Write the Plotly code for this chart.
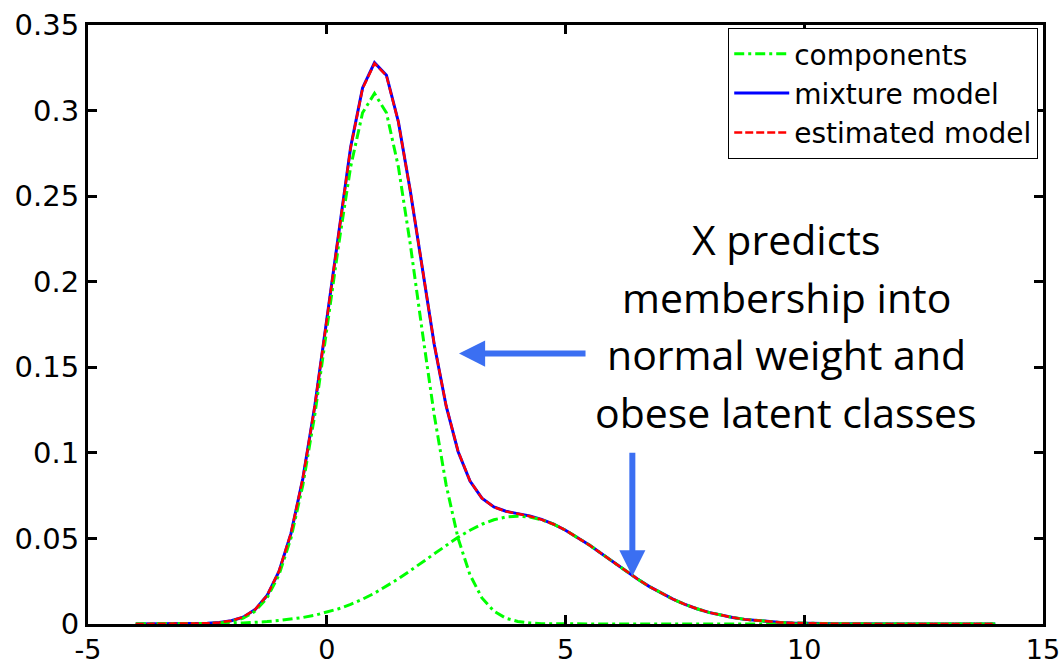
import plotly.graph_objects as go

x_vals = [-4.0, -3.75, -3.5, -3.25, -3.0, -2.75, -2.5, -2.25, -2.0, -1.75, -1.5, -1.25,
          -1.0, -0.75, -0.5, -0.25, 0.0, 0.25, 0.5, 0.75, 1.0, 1.25, 1.5, 1.75,
          2.0, 2.25, 2.5, 2.75, 3.0, 3.25, 3.5, 3.75, 4.0, 4.25, 4.5, 4.75,
          5.0, 5.25, 5.5, 5.75, 6.0, 6.25, 6.5, 6.75, 7.0, 7.25, 7.5, 7.75,
          8.0, 8.25, 8.5, 8.75, 9.0, 9.25, 9.5, 9.75, 10.0, 10.25, 10.5, 10.75,
          11.0, 11.25, 11.5, 11.75, 12.0, 12.25, 12.5, 12.75, 13.0, 13.25, 13.5, 13.75, 14.0]

component_normal = [0, 0, 0, 0, 0, 0.0001, 0.0002, 0.0006, 0.0015, 0.0034, 0.0075, 0.0152,
                    0.0287, 0.0501, 0.0813, 0.1223, 0.1710, 0.2218, 0.2671, 0.2987, 0.3100, 0.2987, 0.2671, 0.2218,
                    0.1710, 0.1223, 0.0813, 0.0501, 0.0287, 0.0152, 0.0075, 0.0034, 0.0015, 0.0006, 0.0002, 0.0001,
                    0, 0, 0, 0, 0, 0, 0, 0, 0, 0, 0, 0,
                    0, 0, 0, 0, 0, 0, 0, 0, 0, 0, 0, 0,
                    0, 0, 0, 0, 0, 0, 0, 0, 0, 0, 0, 0, 0]

component_obese = [0, 0, 0, 0, 0.0001, 0.0001, 0.0002, 0.0003, 0.0004, 0.0006, 0.0009, 0.0014,
                   0.0020, 0.0027, 0.0038, 0.0051, 0.0068, 0.0089, 0.0115, 0.0145, 0.0180, 0.0220, 0.0264, 0.0312,
                   0.0361, 0.0412, 0.0461, 0.0507, 0.0548, 0.0583, 0.0609, 0.0625, 0.0630, 0.0625, 0.0609, 0.0583,
                   0.0548, 0.0507, 0.0461, 0.0412, 0.0361, 0.0312, 0.0264, 0.0220, 0.0180, 0.0145, 0.0115, 0.0089,
                   0.0068, 0.0051, 0.0038, 0.0027, 0.0020, 0.0014, 0.0009, 0.0006, 0.0004, 0.0003, 0.0002, 0.0001,
                   0.0001, 0, 0, 0, 0, 0, 0, 0, 0, 0, 0, 0, 0]

mixture_model = [0, 0, 0, 0, 0.0001, 0.0002, 0.0004, 0.0009, 0.0019, 0.0040, 0.0084, 0.0166,
                 0.0307, 0.0528, 0.0851, 0.1274, 0.1778, 0.2307, 0.2786, 0.3132, 0.3280, 0.3207, 0.2935, 0.2530,
                 0.2071, 0.1635, 0.1274, 0.1008, 0.0835, 0.0735, 0.0684, 0.0659, 0.0645, 0.0631, 0.0611, 0.0584,
                 0.0548, 0.0507, 0.0461, 0.0412, 0.0361, 0.0312, 0.0264, 0.0220, 0.0180, 0.0145, 0.0115, 0.0089,
                 0.0068, 0.0051, 0.0038, 0.0027, 0.0020, 0.0014, 0.0009, 0.0006, 0.0004, 0.0003, 0.0002, 0.0001,
                 0.0001, 0, 0, 0, 0, 0, 0, 0, 0, 0, 0, 0, 0]

estimated_model = [0, 0, 0, 0, 0.0001, 0.0002, 0.0004, 0.0009, 0.0019, 0.0041, 0.0085, 0.0167,
                   0.0309, 0.0530, 0.0852, 0.1275, 0.1777, 0.2305, 0.2783, 0.3129, 0.3276, 0.3204, 0.2933, 0.2530,
                   0.2072, 0.1637, 0.1276, 0.1010, 0.0836, 0.0735, 0.0683, 0.0658, 0.0644, 0.0630, 0.0610, 0.0583,
                   0.0548, 0.0507, 0.0461, 0.0412, 0.0361, 0.0312, 0.0264, 0.0220, 0.0180, 0.0145, 0.0115, 0.0089,
                   0.0068, 0.0051, 0.0038, 0.0027, 0.0020, 0.0014, 0.0009, 0.0006, 0.0004, 0.0003, 0.0002, 0.0001,
                   0.0001, 0, 0, 0, 0, 0, 0, 0, 0, 0, 0, 0, 0]

x_ticks = [-5, 0, 5, 10, 15]
x_tick_text = ["-5", "0", "5", "10", "15"]
y_ticks = [0, 0.05, 0.1, 0.15, 0.2, 0.25, 0.3, 0.35]
y_tick_text = ["0", "0.05", "0.1", "0.15", "0.2", "0.25", "0.3", "0.35"]

annotation_lines = ["X predicts", "membership into", "normal weight and", "obese latent classes"]

GREEN = "#00ff00"
BLUE = "#0000ff"
RED = "#ff0000"
ARROW = "#3b6ff2"

fig = go.Figure()
fig.add_trace(go.Scatter(x=x_vals, y=mixture_model, mode="lines", name="mixture model",
                         line=dict(color=BLUE, width=3), legendrank=2))
fig.add_trace(go.Scatter(x=x_vals, y=component_normal, mode="lines", name="components",
                         line=dict(color=GREEN, width=3, dash="10px,4px,3px,4px"), legendrank=1))
fig.add_trace(go.Scatter(x=x_vals, y=component_obese, mode="lines", name="components",
                         line=dict(color=GREEN, width=3, dash="10px,4px,3px,4px"), showlegend=False))
fig.add_trace(go.Scatter(x=x_vals, y=estimated_model, mode="lines", name="estimated model",
                         line=dict(color=RED, width=2.5, dash="8px,3px"), legendrank=3))

y_tick_font = dict(family="DejaVu Sans", size=29, color="black")
x_tick_font = dict(family="DejaVu Sans", size=27, color="black")

fig.update_layout(
    width=1063, height=667,
    margin=dict(l=88, r=20, t=25, b=43),
    paper_bgcolor="white", plot_bgcolor="white",
    showlegend=True,
    legend=dict(x=0.995, y=0.995, xanchor="right", yanchor="top",
                bgcolor="white", bordercolor="black", borderwidth=1,
                font=dict(family="DejaVu Sans", size=28, color="black"),
                tracegroupgap=0, itemwidth=55),
    xaxis=dict(range=[-5, 15], tickvals=x_ticks, ticktext=x_tick_text, automargin=False,
               showgrid=False, zeroline=False, showline=True, linecolor="black",
               linewidth=3, mirror="ticks", ticks="inside", ticklen=9, tickwidth=2.5,
               tickcolor="black", tickfont=x_tick_font),
    yaxis=dict(range=[0, 0.35], tickvals=y_ticks, ticktext=y_tick_text, automargin=False,
               showgrid=False, zeroline=False, showline=True, linecolor="black",
               linewidth=3, mirror="ticks", ticks="inside", ticklen=9, tickwidth=2.5,
               tickcolor="black", tickfont=y_tick_font),
)

plot_top, plot_bottom = 25, 624
line_y = [235, 293, 350, 408]
for txt, yc in zip(annotation_lines, line_y):
    fig.add_annotation(text=txt, xref="paper", yref="paper",
                       x=(786 - 88) / 955, y=(plot_bottom - yc) / (plot_bottom - plot_top),
                       xanchor="center", yanchor="middle", yshift=-4,
                       showarrow=False,
                       font=dict(family="Open Sans", size=41, color="black"))

# horizontal arrow pointing to the normal-weight component
fig.add_annotation(x=2.77, y=0.158, xref="x", yref="y", ax=128, ay=0,
                   showarrow=True, arrowhead=2, arrowsize=0.87, arrowwidth=6,
                   arrowcolor=ARROW, text="", standoff=0)
# vertical arrow pointing to the obese component
fig.add_annotation(x=6.40, y=0.0279, xref="x", yref="y", ax=0, ay=-125,
                   showarrow=True, arrowhead=2, arrowsize=0.87, arrowwidth=6,
                   arrowcolor=ARROW, text="", standoff=0)

fig.write_html("out.html")
